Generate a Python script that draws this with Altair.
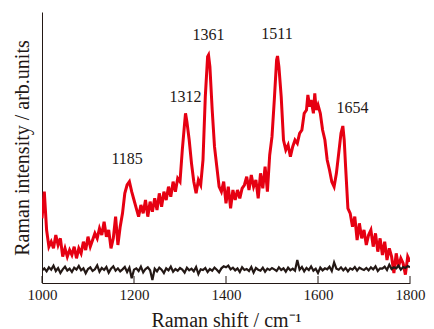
import altair as alt
import pandas as pd

# ---- data ----
red_wn = [1000, 1005, 1010, 1015, 1020, 1025, 1030, 1035, 1040, 1045, 1050, 1055, 1060, 1065, 1070,
          1075, 1080, 1085, 1090, 1095, 1100, 1105, 1110, 1115, 1120, 1125, 1130, 1135, 1140, 1145,
          1150, 1155, 1160, 1165, 1170, 1175, 1180, 1185, 1190, 1195, 1200, 1205, 1210, 1215, 1220,
          1225, 1230, 1235, 1240, 1245, 1250, 1255, 1260, 1265, 1270, 1275, 1280, 1285, 1290, 1295,
          1300, 1305, 1310, 1312, 1315, 1320, 1325, 1330, 1335, 1340, 1345, 1350, 1355, 1360, 1362,
          1365, 1370, 1375, 1380, 1385, 1390, 1395, 1400, 1405, 1410, 1415, 1420, 1425, 1430, 1435,
          1440, 1445, 1450, 1455, 1460, 1465, 1470, 1475, 1480, 1485, 1490, 1495, 1500, 1505, 1510,
          1512, 1515, 1520, 1525, 1530, 1535, 1540, 1545, 1550, 1555, 1560, 1565, 1570, 1575, 1578,
          1582, 1585, 1590, 1593, 1596, 1600, 1605, 1610, 1615, 1620, 1625, 1630, 1635, 1640, 1645,
          1650, 1654, 1657, 1660, 1665, 1670, 1675, 1680, 1685, 1690, 1695, 1700, 1705, 1710, 1715,
          1720, 1725, 1730, 1735, 1740, 1745, 1750, 1755, 1760, 1765, 1770, 1775, 1780, 1785, 1790,
          1795, 1800]
red_int = [194, 274, 159, 109, 124, 104, 144, 114, 134, 79, 104, 79, 99, 84, 109,
           74, 104, 89, 124, 99, 139, 109, 129, 149, 134, 164, 144, 184, 139, 159,
           104, 134, 199, 114, 169, 209, 269, 294, 304, 274, 249, 224, 199, 234, 209,
           249, 199, 244, 214, 254, 219, 269, 229, 274, 249, 289, 259, 304, 274, 314,
           304, 399, 479, 509, 484, 429, 359, 304, 269, 309, 294, 369, 559, 679, 684,
           649, 519, 409, 349, 289, 274, 304, 239, 289, 224, 279, 249, 279, 254, 284,
           294, 319, 279, 324, 289, 309, 254, 329, 284, 349, 274, 384, 439, 549, 669,
           681, 649, 559, 429, 399, 414, 379, 409, 429, 419, 449, 459, 509, 519, 564,
           529, 549, 509, 569, 519, 534, 509, 459, 429, 369, 339, 304, 289, 329, 389,
           449, 471, 429, 349, 224, 209, 169, 199, 129, 179, 134, 159, 114, 144, 159,
           109, 149, 94, 134, 84, 124, 69, 104, 79, 30, 89, 49, 74, 59, 25,
           79, 64]

black_wn = list(range(1000, 1805, 5))
black_int = [38, 44, 35, 47, 40, 52, 36, 45, 30, 41, 49, 37, 43, 33, 46, 40, 51, 38, 44, 29, 42,
             47, 36, 41, 53, 34, 45, 39, 48, 31, 43, 50, 37, 44, 35, 41, 48, 33, 46, 14, 40,
             44, 36, 49, 32, 42, 47, 38, 9, 43, 35, 46, 40, 30, 44, 38, 49, 34, 42, 37, 45,
             40, 31, 46, 38, 43, 35, 48, 27, 41, 39, 45, 33, 42, 37, 46, 40, 32, 44, 50, 47,
             52, 41, 46, 38, 44, 33, 47, 39, 42, 36, 48, 31, 45, 40, 37, 46, 34, 43, 39, 45,
             41, 36, 47, 39, 44, 34, 46, 38, 43, 37, 69, 40, 48, 35, 45, 39, 50, 37, 43, 30,
             46, 38, 44, 41, 49, 36, 62, 43, 40, 47, 38, 45, 35, 44, 40, 48, 37, 46, 42, 39,
             45, 38, 47, 41, 50, 36, 44, 43, 49, 39, 55, 42, 47, 44, 52, 40, 48, 45, 51, 47]

peak_labels = ["1185", "1312", "1361", "1511", "1654"]
peak_x = [1185, 1312, 1362, 1511, 1675]
peak_y = [371, 557, 744, 747, 524]

tick_values = [1000, 1200, 1400, 1600, 1800]

# ---- chart ----
W, H = 368, 271
FONT = "Liberation Serif"
INK = "#231815"
xs = alt.Scale(domain=[1000, 1800], nice=False, zero=False)
ys = alt.Scale(domain=[0, 813], nice=False, zero=False)

red_df = pd.DataFrame({"wn": red_wn, "I": red_int})
black_df = pd.DataFrame({"wn": black_wn, "I": black_int})
lab_df = pd.DataFrame({"wn": peak_x, "I": peak_y, "t": peak_labels})
tick_df = pd.DataFrame({"wn": tick_values})

x_axis = alt.Axis(values=tick_values, format="d", tickSize=0, labelPadding=4, labelFont=FONT,
                  labelFontSize=15, labelColor=INK, domainColor=INK, labelFlush=False,
                  grid=False, title="Raman shift / cm⁻¹", titleFont=FONT,
                  titleFontSize=20, titleFontWeight="normal", titleColor=INK,
                  titleY=43, titleBaseline="alphabetic")
y_axis = alt.Axis(labels=False, ticks=False, grid=False, domainColor=INK,
                  title="Raman intensity / arb.units", titleFont=FONT, titleFontSize=20,
                  titleFontWeight="normal", titleColor=INK, titleX=-20,
                  titleBaseline="middle", titleAngle=270)

red = alt.Chart(red_df).mark_line(color="#e60012", strokeWidth=3, clip=True).encode(
    x=alt.X("wn:Q", scale=xs, axis=x_axis),
    y=alt.Y("I:Q", scale=ys, axis=y_axis),
)
black = alt.Chart(black_df).mark_line(color=INK, strokeWidth=2.2, clip=True).encode(
    x=alt.X("wn:Q", scale=xs),
    y=alt.Y("I:Q", scale=ys),
)
labels = alt.Chart(lab_df).mark_text(font=FONT, fontSize=16, color=INK,
                                     baseline="middle", align="center").encode(
    x=alt.X("wn:Q", scale=xs),
    y=alt.Y("I:Q", scale=ys),
    text="t:N",
)
ticks = alt.Chart(tick_df).mark_rule(color=INK, strokeWidth=1).encode(
    x=alt.X("wn:Q", scale=xs),
    y=alt.value(H),
    y2=alt.value(H - 7),
)

chart = alt.layer(red, black, labels, ticks).properties(
    width=W, height=H,
    autosize=alt.AutoSizeParams(type="none"),
    padding={"left": 34, "top": 4, "right": 16, "bottom": 46},
    background="white",
).configure_view(stroke=None)

chart.save("out.html", embed_options={"renderer": "svg", "actions": False})
